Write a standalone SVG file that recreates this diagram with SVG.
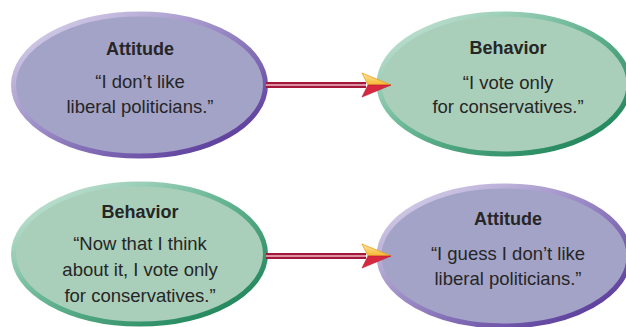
<svg xmlns="http://www.w3.org/2000/svg" width="626" height="327" viewBox="0 0 626 327">
  <defs>
    <linearGradient id="purpleEdge" x1="0" y1="0" x2="1" y2="1">
      <stop offset="0" stop-color="#e2def0"/>
      <stop offset="0.45" stop-color="#9c8cc6"/>
      <stop offset="1" stop-color="#4b2a91"/>
    </linearGradient>
    <linearGradient id="greenEdge" x1="0" y1="0" x2="1" y2="1">
      <stop offset="0" stop-color="#d8ece2"/>
      <stop offset="0.45" stop-color="#6ab796"/>
      <stop offset="1" stop-color="#0f7a4c"/>
    </linearGradient>
    <linearGradient id="headTop" x1="0" y1="0" x2="0" y2="1">
      <stop offset="0" stop-color="#fde7a0"/>
      <stop offset="1" stop-color="#f4b630"/>
    </linearGradient>
    <g id="arrowhead">
      <polygon points="-29,-12 0,0 -23,0" fill="url(#headTop)" stroke="#eaa020" stroke-width="0.8" stroke-linejoin="round"/>
      <polygon points="-23,0 0,0 -29,12" fill="#d8283f" stroke="#b81a32" stroke-width="0.6" stroke-linejoin="round"/>
    </g>
  </defs>
  <style>
    .purple { fill: #a3a3c8; stroke: url(#purpleEdge); stroke-width: 5; }
    .green { fill: #a9cfbb; stroke: url(#greenEdge); stroke-width: 5; }
    text { font-family: "Liberation Sans", Arial, sans-serif; fill: #262626; text-anchor: middle; }
    .title { font-size: 18px; font-weight: bold; }
    .body { font-size: 18.5px; }
    .shaft { fill: #a3183a; }
    .stripe { fill: #eab0bc; }
  </style>

  <rect width="626" height="327" fill="#ffffff"/>

  <g id="attitude-top">
    <ellipse class="purple" cx="139.5" cy="85" rx="126" ry="71"/>
    <text class="title" x="140" y="55">Attitude</text>
    <text class="body" x="140" y="88">“I don’t like</text>
    <text class="body" x="140" y="113">liberal politicians.”</text>
  </g>

  <g id="behavior-top">
    <ellipse class="green" cx="504" cy="84" rx="125" ry="70"/>
    <text class="title" x="508" y="54">Behavior</text>
    <text class="body" x="508" y="89">“I vote only</text>
    <text class="body" x="508" y="113">for conservatives.”</text>
  </g>

  <g id="behavior-bottom">
    <ellipse class="green" cx="139.5" cy="254" rx="126" ry="70"/>
    <text class="title" x="140" y="218">Behavior</text>
    <text class="body" x="140" y="250">“Now that I think</text>
    <text class="body" x="140" y="276">about it, I vote only</text>
    <text class="body" x="140" y="302">for conservatives.”</text>
  </g>

  <g id="attitude-bottom">
    <ellipse class="purple" cx="504" cy="256" rx="125" ry="70"/>
    <text class="title" x="508" y="225">Attitude</text>
    <text class="body" x="508" y="260">“I guess I don’t like</text>
    <text class="body" x="508" y="285">liberal politicians.”</text>
  </g>

  <!-- arrows sit above the ellipses so the heads overlap the target edge -->
  <g id="connectors">
    <g id="arrow-top">
      <rect class="shaft" x="266" y="82" width="100" height="6"/>
      <rect class="stripe" x="266" y="84.2" width="100" height="1.6"/>
      <use href="#arrowhead" x="391" y="85"/>
    </g>
    <g id="arrow-bottom">
      <rect class="shaft" x="266" y="253" width="100" height="6"/>
      <rect class="stripe" x="266" y="255.2" width="100" height="1.6"/>
      <use href="#arrowhead" x="391" y="256"/>
    </g>
  </g>
</svg>
